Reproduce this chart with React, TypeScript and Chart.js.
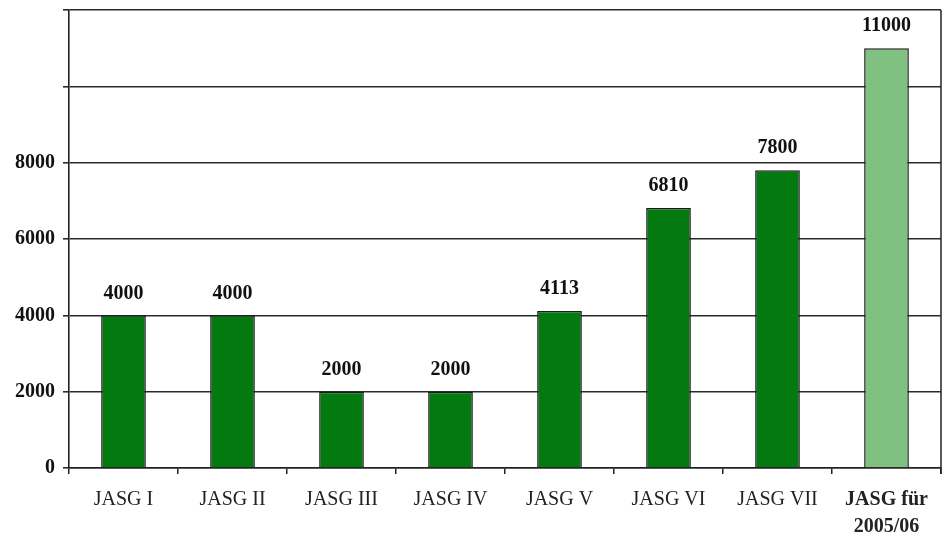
import React, { useEffect, useRef } from "react";
import { Chart, registerables } from "chart.js";

Chart.register(...registerables);

const categories: (string | string[])[] = [
  "JASG I",
  "JASG II",
  "JASG III",
  "JASG IV",
  "JASG V",
  "JASG VI",
  "JASG VII",
  ["JASG für", "2005/06"],
];
const values = [4000, 4000, 2000, 2000, 4113, 6810, 7800, 11000];
const barColors = ["#037a10", "#037a10", "#037a10", "#037a10", "#037a10", "#037a10", "#037a10", "#80c080"];
const yTicksShown = [0, 2000, 4000, 6000, 8000];

const FONT = "'Liberation Serif', 'Times New Roman', serif";

const valueLabelPlugin = {
  id: "valueLabels",
  afterDatasetsDraw(chart: any) {
    const ctx = chart.ctx;
    const meta = chart.getDatasetMeta(0);
    ctx.save();
    ctx.font = `bold 20px ${FONT}`;
    ctx.fillStyle = "#111";
    ctx.textAlign = "center";
    ctx.textBaseline = "middle";
    meta.data.forEach((bar: any, i: number) => {
      ctx.fillText(String(values[i]), bar.x, bar.y - 22);
    });
    // right border
    const a = chart.chartArea;
    ctx.strokeStyle = "#222";
    ctx.lineWidth = 1.5;
    ctx.beginPath();
    ctx.moveTo(a.right, a.top);
    ctx.lineTo(a.right, a.bottom + 6);
    ctx.stroke();
    ctx.restore();
  },
};

export default function App() {
  const ref = useRef<HTMLCanvasElement>(null);
  useEffect(() => {
    document.body.style.margin = "0";
    const chart = new Chart(ref.current!, {
      type: "bar",
      data: {
        labels: categories,
        datasets: [
          {
            data: values,
            backgroundColor: barColors,
            borderColor: "#1a1a1a",
            borderWidth: 1.5,
            categoryPercentage: 1,
            barPercentage: 0.41,
          },
        ],
      },
      options: {
        animation: false,
        responsive: false,
        maintainAspectRatio: false,
        layout: { padding: { top: 10, right: 5, left: 0, bottom: 0 } },
        plugins: {
          legend: { display: false },
          tooltip: { enabled: false },
        },
        scales: {
          x: {
            offset: true,
            grid: {
              offset: true,
              drawOnChartArea: false,
              drawTicks: true,
              tickLength: 6,
              color: "#222",
              lineWidth: 1.5,
            },
            border: { color: "#222", width: 1.5 },
            ticks: {
              color: "#222",
              padding: 12,
              maxRotation: 0,
              autoSkip: false,
              font: (c: any) =>
                c.index === 7
                  ? { family: FONT, size: 20, weight: "bold", lineHeight: 1.35 }
                  : { family: FONT, size: 20, weight: "normal", lineHeight: 1.35 },
            },
            afterFit: (s: any) => {
              s.height = 68;
            },
          },
          y: {
            min: 0,
            max: 12000,
            grid: {
              color: "#2a2a2a",
              lineWidth: 1.6,
              drawTicks: true,
              tickLength: 6,
            },
            border: { color: "#222", width: 1.6 },
            ticks: {
              stepSize: 2000,
              color: "#111",
              padding: 8,
              font: { family: FONT, size: 20, weight: "bold" },
              callback: (v: any) => (yTicksShown.includes(Number(v)) ? String(v) : ""),
            },
            afterFit: (s: any) => {
              s.width = 69;
              s.paddingTop = 0;
              s.paddingBottom = 0;
            },
          },
        },
      },
      plugins: [valueLabelPlugin],
    });
    return () => chart.destroy();
  }, []);
  return (
    <div style={{ width: 946, height: 536 }}>
      <canvas ref={ref} width={946} height={536} style={{ display: "block" }} />
    </div>
  );
}
